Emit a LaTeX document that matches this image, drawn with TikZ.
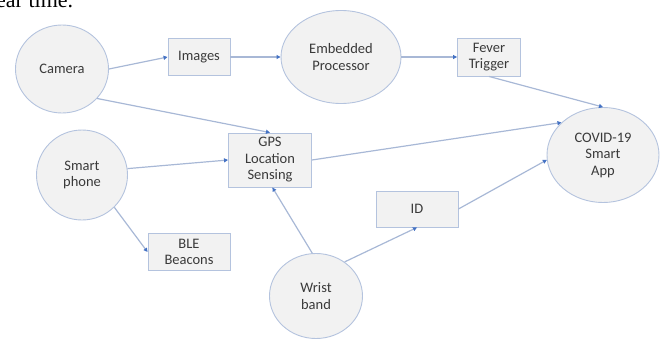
\documentclass[tikz,border=0pt]{standalone}
\usepackage{fontspec}
\setmainfont{Carlito}
\newfontfamily\textserif{Liberation Serif}
\usepackage{tikz}
\usetikzlibrary{shapes.geometric,arrows.meta}
\definecolor{nodefill}{HTML}{F2F2F2}
\definecolor{rim}{HTML}{B4C3DE}
\definecolor{wire}{HTML}{A8B8D6}
\definecolor{tip}{HTML}{4472C4}
\definecolor{ink}{HTML}{3A3A3A}

\tikzset{
  unit/.style={ellipse, draw=rim, fill=nodefill, line width=0.9pt, inner sep=0pt,
    text=ink, align=center, font=\fontsize{14.5}{16.5}\selectfont},
  data/.style={rectangle, draw=rim, fill=nodefill, line width=0.9pt, inner sep=0pt,
    text=ink, align=center, font=\fontsize{14.5}{16.5}\selectfont},
  flow/.style={wire, line width=1.2pt, -{Triangle[length=4pt,width=4pt,color=tip]}}
}

\begin{document}
\begin{tikzpicture}[x=1pt,y=-1pt]
      \useasboundingbox (0,0) rectangle (664,340);
      % line of text above the figure
      \node[anchor=base west, inner sep=0pt] at (-4,7) {\textserif\fontsize{22}{24}\selectfont ear time.};

      % devices and processing units
      \node[unit, minimum width=93pt, minimum height=88pt] (camera) at (62,69) {Camera};
      \node[unit, minimum width=120pt, minimum height=93pt] (proc) at (341,57) {Embedded\\Processor};
      \node[unit, minimum width=112pt, minimum height=95pt] (app) at (603,155) {COVID-19\\Smart\\App};
      \node[unit, minimum width=91pt, minimum height=90pt] (phone) at (82,175) {Smart\\phone};
      \node[unit, minimum width=93pt, minimum height=85pt] (wrist) at (316,296) {Wrist\\band};

      % data blocks
      \node[data, minimum width=62pt, minimum height=37pt] (images) at (199,57) {Images};
      \node[data, minimum width=63pt, minimum height=38pt] (fever) at (489,57) {Fever\\Trigger};
      \node[data, minimum width=83pt, minimum height=54pt] (gps) at (270,160) {GPS\\Location\\Sensing};
      \node[data, minimum width=82pt, minimum height=37pt] (ble) at (189,252) {BLE\\Beacons};
      \node[data, minimum width=82pt, minimum height=36pt] (id) at (417,209) {ID};

      % connections
      \draw[flow] (camera.east) -- (images.west);
      \draw[flow] (images.east) -- (proc.west);
      \draw[flow] (proc.east) -- (fever.west);
      \draw[flow] (fever.south) -- (app.north);
      \draw[flow] (camera.-40) -- (gps.north);
      \draw[flow] (phone.8) -- (gps.west);
      \draw[flow] (gps.east) -- (app.142);
      \draw[flow] (phone.-45) -- (ble.west);
      \draw[flow] (wrist.95) -- (gps.-85);
      \draw[flow] (wrist.50) -- (id.south);
      \draw[flow] (id.east) -- (app.185);
    \end{tikzpicture}
\end{document}
